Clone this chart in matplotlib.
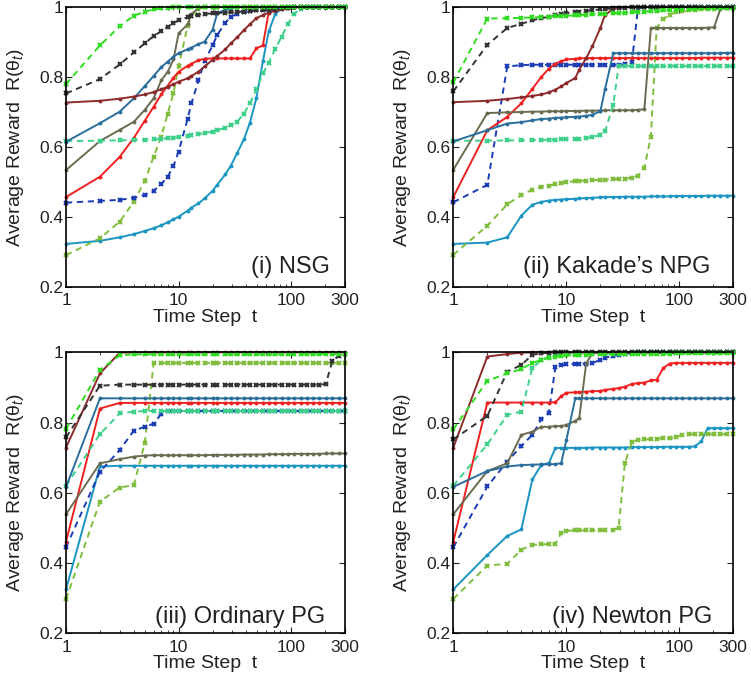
import numpy as np
import matplotlib
matplotlib.use("Agg")
import matplotlib.pyplot as plt
from matplotlib.ticker import FixedLocator, LogLocator, NullFormatter

plt.rcParams['font.family'] = ['Liberation Sans', 'DejaVu Sans']
plt.rcParams['mathtext.fontset'] = 'custom'
plt.rcParams['mathtext.rm'] = 'Liberation Sans'
plt.rcParams['mathtext.it'] = 'Liberation Sans:italic'

# time steps where the curves are sampled (log spaced)
T = [1, 2, 3, 4, 5, 6, 7, 8, 9, 10, 12, 13, 15, 17, 20, 22, 26, 29, 33, 38, 43, 49, 56, 63,
     72, 82, 93, 106, 121, 138, 157, 178, 203, 231, 263, 300]

# ---- (i) NSG
nsg_green = [.780, .890, .945, .975, .987, .993, .996, .998, .999, 1, 1, 1, 1, 1, 1, 1, 1, 1,
             1, 1, 1, 1, 1, 1, 1, 1, 1, 1, 1, 1, 1, 1, 1, 1, 1, 1]
nsg_black = [.753, .794, .836, .870, .896, .917, .931, .944, .953, .963, .970, .974, .978, .980,
             .982, .983, .984, .985, .986, .987, .988, .990, .990, .992, .994, .996, .998, 1, 1,
             1, 1, 1, 1, 1, 1, 1]
nsg_brown = [.727, .732, .738, .744, .750, .757, .765, .772, .779, .787, .796, .803, .815, .830,
             .849, .860, .879, .896, .913, .934, .951, .968, .977, .984, .989, .993, .997, 1, 1,
             1, 1, 1, 1, 1, 1, 1]
nsg_steel = [.615, .668, .701, .739, .774, .803, .828, .844, .858, .868, .879, .884, .894, .901,
             .935, .982, .992, .997, 1, 1, 1, 1, 1, 1, 1, 1, 1, 1, 1, 1, 1, 1, 1, 1, 1, 1]
nsg_teal = [.617, .618, .619, .620, .621, .622, .623, .625, .627, .628, .632, .634, .637, .640,
            .644, .648, .655, .662, .672, .695, .725, .765, .810, .840, .880, .915, .950, .980,
            .995, 1, 1, 1, 1, 1, 1, 1]
nsg_olive = [.534, .617, .649, .672, .706, .739, .790, .815, .850, .925, .950, .980, .997, 1, 1,
             1, 1, 1, 1, 1, 1, 1, 1, 1, 1, 1, 1, 1, 1, 1, 1, 1, 1, 1, 1, 1]
nsg_red = [.457, .515, .572, .626, .675, .715, .750, .775, .798, .815, .832, .838, .848, .852,
           .853, .853, .853, .853, .853, .853, .853, .882, .890, .985, 1, 1, 1, 1, 1, 1, 1, 1,
           1, 1, 1, 1]
nsg_blue = [.441, .446, .449, .455, .463, .475, .494, .515, .546, .587, .680, .725, .790, .845,
            .890, .920, .955, .972, .980, .985, .988, .990, .992, .994, .996, .998, 1, 1, 1, 1,
            1, 1, 1, 1, 1, 1]
nsg_cyan = [.323, .332, .342, .351, .360, .368, .376, .385, .393, .401, .418, .427, .439, .453,
            .475, .492, .522, .546, .582, .622, .670, .740, .845, .930, .980, .995, 1, 1, 1, 1,
            1, 1, 1, 1, 1, 1]
nsg_ygreen = [.291, .339, .387, .444, .503, .572, .630, .695, .755, .830, .945, .975, .995, 1, 1,
              1, 1, 1, 1, 1, 1, 1, 1, 1, 1, 1, 1, 1, 1, 1, 1, 1, 1, 1, 1, 1]

# ---- (ii) Kakade's NPG
npg_green = [.785, .967, .968, .969, .970, .971, .972, .973, .974, .975, .976, .977, .978, .979,
             .980, .981, .982, .983, .984, .985, .986, .987, .988, .989, .990, .991, .992, .993,
             .994, .995, .996, .997, .997, .998, .998, .998]
npg_black = [.759, .892, .940, .952, .962, .968, .972, .976, .979, .982, .985, .987, .989, .991,
             .993, .994, .996, .997, .998, .999, 1, 1, 1, 1, 1, 1, 1, 1, 1, 1, 1, 1, 1, 1, 1, 1]
npg_brown = [.728, .732, .737, .742, .746, .750, .756, .764, .773, .783, .797, .821, .854, .888,
             .940, .978, .994, 1, 1, 1, 1, 1, 1, 1, 1, 1, 1, 1, 1, 1, 1, 1, 1, 1, 1, 1]
npg_steel = [.616, .648, .667, .671, .676, .680, .681, .683, .684, .685, .686, .687, .689, .692,
             .702, .765, .868, .868, .868, .868, .868, .868, .868, .868, .868, .868, .868, .868,
             .868, .868, .868, .868, .868, .868, .869, .869]
npg_teal = [.618, .618, .619, .619, .620, .620, .621, .621, .622, .622, .623, .624, .626, .628,
            .635, .645, .720, .830, .831, .831, .831, .831, .831, .831, .831, .831, .831, .831,
            .831, .831, .831, .831, .831, .831, .831, .831]
npg_olive = [.535, .697, .699, .700, .701, .701, .702, .702, .702, .703, .703, .703, .704, .704,
             .704, .705, .705, .705, .705, .705, .706, .708, .940, .940, .940, .940, .940, .940,
             .940, .940, .940, .941, .942, .995, .997, .997]
npg_red = [.457, .648, .686, .725, .766, .800, .824, .838, .845, .850, .852, .853, .854, .854,
           .854, .854, .854, .854, .854, .854, .854, .854, .854, .854, .854, .854, .854, .854,
           .854, .854, .855, .855, .855, .855, .855, .855]
npg_blue = [.442, .492, .830, .834, .835, .835, .835, .835, .835, .835, .835, .835, .835, .835,
            .835, .835, .835, .835, .836, .842, .995, 1, 1, 1, 1, 1, 1, 1, 1, 1, 1, 1, 1, 1, 1, 1]
npg_cyan = [.323, .327, .342, .404, .435, .443, .447, .449, .450, .451, .452, .453, .454, .455,
            .456, .457, .457, .457, .458, .458, .458, .458, .459, .459, .459, .459, .460, .460,
            .460, .460, .460, .461, .461, .461, .461, .461]
npg_ygreen = [.292, .375, .436, .463, .478, .486, .490, .494, .497, .500, .502, .503, .504, .505,
              .506, .507, .508, .509, .510, .512, .518, .540, .630, .940, .965, .978, .985, .988,
              .990, .992, .993, .994, .995, .996, .997, .998]

# ---- (iii) Ordinary PG
opg_green = [.782, .950, .992, .994, .994, .994, .994, .994, .994, .994, .994, .994, .994, .994,
             .994, .994, .994, .994, .994, .994, .994, .994, .994, .994, .994, .994, .994, .994,
             .995, .995, .995, .995, .995, .995, .995, .995]
opg_black = [.758, .905, .908, .908, .908, .908, .908, .908, .908, .908, .908, .908, .908, .908,
             .908, .908, .908, .908, .908, .908, .908, .908, .908, .908, .908, .908, .908, .908,
             .908, .908, .908, .908, .910, .975, .990, .995]
opg_brown = [.729, .940, .999, 1, 1, 1, 1, 1, 1, 1, 1, 1, 1, 1, 1, 1, 1, 1, 1, 1, 1, 1, 1, 1, 1,
             1, 1, 1, 1, 1, 1, 1, 1, 1, 1, 1]
opg_steel = [.616, .869, .869, .869, .869, .869, .869, .869, .869, .869, .869, .869, .869, .869,
             .869, .869, .869, .869, .869, .869, .869, .869, .869, .869, .869, .869, .869, .869,
             .869, .869, .869, .869, .869, .869, .869, .869]
opg_teal = [.620, .767, .826, .831, .833, .833, .833, .833, .833, .833, .833, .833, .833, .833,
            .833, .833, .833, .833, .833, .833, .833, .833, .833, .833, .833, .833, .833, .833,
            .833, .833, .833, .833, .833, .833, .833, .833]
opg_olive = [.539, .684, .696, .703, .706, .707, .707, .707, .707, .707, .707, .707, .707, .707,
             .708, .708, .708, .708, .708, .709, .709, .709, .709, .710, .710, .710, .710, .711,
             .711, .711, .711, .711, .712, .712, .712, .712]
opg_red = [.461, .840, .856, .856, .856, .856, .856, .856, .856, .856, .856, .856, .856, .856,
           .856, .856, .856, .856, .856, .856, .856, .856, .856, .856, .856, .856, .856, .856,
           .856, .856, .856, .856, .856, .856, .856, .856]
opg_blue = [.445, .660, .722, .777, .788, .797, .824, .833, .833, .833, .833, .833, .833, .833,
            .833, .833, .833, .833, .833, .833, .833, .833, .833, .833, .833, .833, .833, .833,
            .833, .833, .833, .833, .833, .833, .833, .833]
opg_cyan = [.325, .675, .677, .677, .677, .677, .677, .677, .677, .677, .677, .677, .677, .677,
            .677, .677, .677, .677, .677, .677, .677, .677, .677, .677, .677, .677, .677, .677,
            .677, .677, .677, .677, .677, .677, .677, .677]
opg_ygreen = [.297, .575, .615, .622, .741, .969, .970, .970, .970, .970, .970, .970, .970, .970,
              .970, .970, .970, .970, .970, .970, .970, .970, .970, .970, .970, .970, .970, .970,
              .970, .970, .970, .970, .970, .970, .970, .970]

# ---- (iv) Newton PG
npt_green = [.781, .919, .940, .952, .970, .978, .985, .988, .990, .991, .992, .993, .993, .994,
             .994, .994, .995, .995, .995, .995, .996, .996, .996, .996, .996, .996, .997, .997,
             .997, .997, .997, .997, .997, .997, .997, .997]
npt_black = [.752, .819, .945, .964, .993, .997, .999, 1, 1, 1, 1, 1, 1, 1, 1, 1, 1, 1, 1, 1, 1,
             1, 1, 1, 1, 1, 1, 1, 1, 1, 1, 1, 1, 1, 1, 1]
npt_brown = [.729, .988, .995, .999, 1, 1, 1, 1, 1, 1, 1, 1, 1, 1, 1, 1, 1, 1, 1, 1, 1, 1, 1, 1,
             1, 1, 1, 1, 1, 1, 1, 1, 1, 1, 1, 1]
npt_steel = [.617, .662, .675, .679, .680, .681, .681, .682, .684, .750, .869, .869, .869, .869,
             .869, .869, .869, .869, .869, .869, .869, .869, .869, .869, .869, .869, .869, .869,
             .869, .869, .869, .869, .869, .869, .869, .869]
npt_teal = [.620, .738, .822, .831, .955, .978, .988, .993, .995, .996, .997, .997, .998, .998,
            .998, .998, .999, .999, .999, .999, 1, 1, 1, 1, 1, 1, 1, 1, 1, 1, 1, 1, 1, 1, 1, 1]
npt_olive = [.539, .662, .684, .765, .774, .788, .788, .790, .790, .793, .805, .812, .969, .997,
             1, 1, 1, 1, 1, 1, 1, 1, 1, 1, 1, 1, 1, 1, 1, 1, 1, 1, 1, 1, 1, 1]
npt_red = [.461, .857, .857, .857, .857, .857, .857, .858, .875, .885, .886, .887, .888, .889,
           .890, .893, .896, .898, .902, .910, .912, .914, .920, .922, .955, .968, .970, .970,
           .970, .970, .970, .970, .970, .970, .970, .970]
npt_blue = [.445, .618, .689, .733, .765, .809, .828, .957, .963, .966, .967, .967, .968, .970,
            .978, .985, .990, .993, .996, .998, 1, 1, 1, 1, 1, 1, 1, 1, 1, 1, 1, 1, 1, 1, 1, 1]
npt_cyan = [.325, .423, .477, .496, .638, .679, .685, .727, .728, .728, .728, .728, .728, .729,
            .729, .729, .729, .729, .729, .730, .730, .730, .730, .730, .731, .731, .731, .731,
            .731, .732, .748, .784, .784, .784, .784, .784]
npt_ygreen = [.298, .393, .398, .438, .452, .453, .454, .455, .485, .492, .493, .493, .493, .493,
              .493, .494, .495, .500, .685, .745, .750, .752, .753, .754, .755, .756, .758, .765,
              .767, .767, .767, .767, .767, .767, .767, .767]

panels = [
    [nsg_cyan, nsg_ygreen, nsg_blue, nsg_red, nsg_olive, nsg_teal, nsg_steel, nsg_brown, nsg_black, nsg_green],
    [npg_cyan, npg_ygreen, npg_blue, npg_red, npg_olive, npg_teal, npg_steel, npg_brown, npg_black, npg_green],
    [opg_cyan, opg_ygreen, opg_blue, opg_red, opg_olive, opg_teal, opg_steel, opg_brown, opg_black, opg_green],
    [npt_cyan, npt_ygreen, npt_blue, npt_red, npt_olive, npt_teal, npt_steel, npt_brown, npt_black, npt_green],
]
titles = ['(i) NSG', '(ii) Kakade\u2019s NPG', '(iii) Ordinary PG', '(iv) Newton PG']

# style per series (same order as in panels)
colors = ['#1a95c2', '#80bd3c', '#1a3db4', '#ee2020', '#6b6b52', '#3dd08a', '#2a6e9b',
          '#8b2b2b', '#333333', '#2fdc20']
dashed = [False, True, True, False, False, True, False, False, True, True]

boxes = [[0.0879, 0.5773, 0.3715, 0.4124], [0.6036, 0.5773, 0.3728, 0.4124],
         [0.0879, 0.0673, 0.3715, 0.4138], [0.6036, 0.0673, 0.3728, 0.4138]]
title_xy = [(0.946, 0.05), (0.919, 0.05), (0.928, 0.037), (0.926, 0.037)]

fig = plt.figure(figsize=(7.51, 6.79), dpi=100)

for k in range(4):
    ax = fig.add_axes(boxes[k])
    for s, ys in enumerate(panels[k]):
        if dashed[s]:
            ax.plot(T, ys, color=colors[s], lw=1.4, ls=(0, (3.2, 2.4)), marker='x', ms=3.5,
                    mew=1.5, clip_on=False)
        else:
            ax.plot(T, ys, color=colors[s], lw=1.4, ls='-', marker='o', ms=2.8, mew=0,
                    clip_on=False)
    ax.set_xscale('log')
    ax.set_xlim(1, 300)
    ax.set_ylim(0.2, 1)
    ax.xaxis.set_major_locator(FixedLocator([1, 10, 100, 300]))
    ax.set_xticklabels(['1', '10', '100', '300'])
    ax.xaxis.set_minor_locator(LogLocator(base=10, subs=np.arange(2, 10), numticks=20))
    ax.xaxis.set_minor_formatter(NullFormatter())
    ax.set_yticks([0.2, 0.4, 0.6, 0.8, 1.0])
    ax.set_yticklabels(['0.2', '0.4', '0.6', '0.8', '1'])
    ax.tick_params(which='both', direction='in', top=True, right=True, labelsize=12.5,
                   colors='#222222')
    ax.tick_params(which='major', length=4, width=0.8)
    ax.tick_params(which='minor', length=2, width=0.6)
    ax.tick_params(axis='x', pad=4.5)
    ax.tick_params(axis='y', pad=2)
    for sp in ax.spines.values():
        sp.set_linewidth(1.2)
        sp.set_color('black')
    ax.set_xlabel('Time Step  t', fontsize=14, color='#222222')
    ax.xaxis.set_label_coords(0.5, -0.077)
    ax.set_ylabel('Average Reward  R($\\mathrm{\\theta}_t$)', fontsize=14, color='#222222')
    ax.yaxis.set_label_coords(-0.145, 0.5)
    ax.text(title_xy[k][0], title_xy[k][1], titles[k], transform=ax.transAxes, ha='right',
            va='baseline', fontsize=17, color='#222222')

fig.savefig('out.png', dpi=100)
